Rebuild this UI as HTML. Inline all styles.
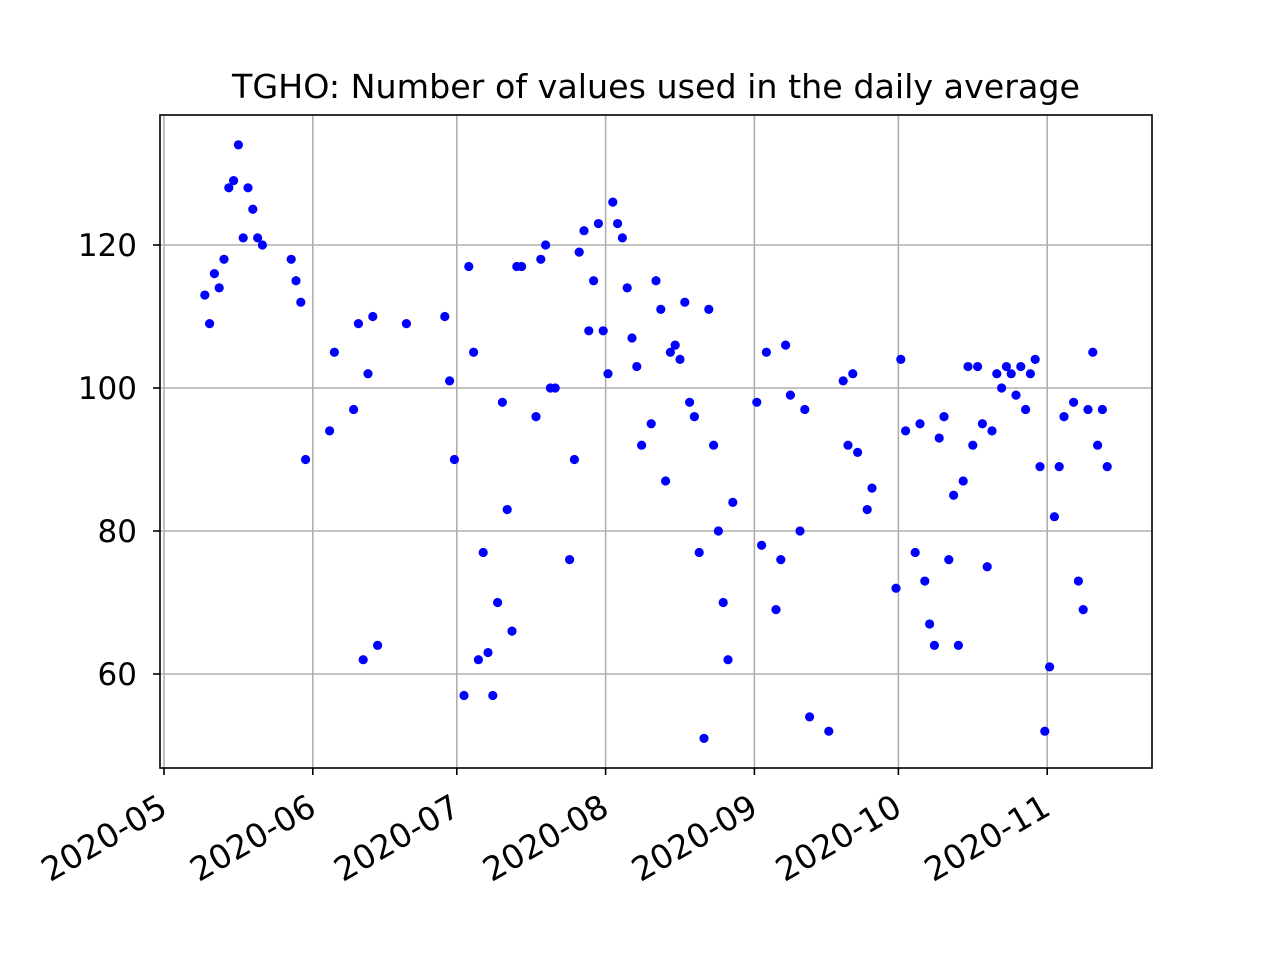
<!DOCTYPE html>
<html><head><meta charset="utf-8"><style>
html,body{margin:0;padding:0;background:#fff;}
svg{display:block;font-family:"DejaVu Sans","Liberation Sans",sans-serif;}
</style></head><body>
<svg id="chart" width="1280" height="960" viewBox="0 0 1280 960" xmlns="http://www.w3.org/2000/svg">
<rect width="1280" height="960" fill="#fff"/>
<text x="656" y="98" font-size="33.3" text-anchor="middle">TGHO: Number of values used in the daily average</text>
<g id="grid"></g><g id="pts"></g><g id="axes"></g>
</svg>
<script>
// days since 2020-05-01
const days=[8.5,9.5,10.5,11.5,12.5,13.5,14.5,15.5,16.5,17.5,18.5,19.5,20.5,26.5,27.5,28.5,29.5,34.5,35.5,39.5,40.5,41.5,42.5,43.5,44.5,50.5,58.5,59.5,60.5,62.5,63.5,64.5,65.5,66.5,67.5,68.5,69.5,70.5,71.5,72.5,73.5,74.5,77.5,78.5,79.5,80.5,81.5,84.5,85.5,86.5,87.5,88.5,89.5,90.5,91.5,92.5,93.5,94.5,95.5,96.5,97.5,98.5,99.5,101.5,102.5,103.5,104.5,105.5,106.5,107.5,108.5,109.5,110.5,111.5,112.5,113.5,114.5,115.5,116.5,117.5,118.5,123.5,124.5,125.5,127.5,128.5,129.5,130.5,132.5,133.5,134.5,138.5,141.5,142.5,143.5,144.5,146.5,147.5,152.5,153.5,154.5,156.5,157.5,158.5,159.5,160.5,161.5,162.5,163.5,164.5,165.5,166.5,167.5,168.5,169.5,170.5,171.5,172.5,173.5,174.5,175.5,176.5,177.5,178.5,179.5,180.5,181.5,182.5,183.5,184.5,185.5,186.5,187.5,189.5,190.5,191.5,192.5,193.5,194.5,195.5,196.5];
const values=[113,109,116,114,118,128,129,134,121,128,125,121,120,118,115,112,90,94,105,97,109,62,102,110,64,109,110,101,90,57,117,105,62,77,63,57,70,98,83,66,117,117,96,118,120,100,100,76,90,119,122,108,115,123,108,102,126,123,121,114,107,103,92,95,115,111,87,105,106,104,112,98,96,77,51,111,92,80,70,62,84,98,78,105,69,76,106,99,80,97,54,52,101,92,102,91,83,86,72,104,94,77,95,73,67,64,93,96,76,85,64,87,103,92,103,95,75,94,102,100,103,102,99,103,97,102,104,89,52,61,82,89,96,98,73,69,97,105,92,97,89];
const xTickDays=[0,31,61,92,123,153,184];
const xTickLabels=["2020-05","2020-06","2020-07","2020-08","2020-09","2020-10","2020-11"];
const yTicks=[60,80,100,120];
const NS="http://www.w3.org/2000/svg";
const L=160,R=1152,T=115,B=768;
const X=d=>164+d*4.8;
const Y=v=>388-(v-100)*7.15;
function mk(tag,attrs,parent){const e=document.createElementNS(NS,tag);for(const k in attrs)e.setAttribute(k,attrs[k]);document.getElementById(parent).appendChild(e);return e;}
xTickDays.forEach((d,i)=>{
  const x=X(d);
  const g=mk('line',{x1:x,x2:x,y1:T,y2:B,stroke:'#b0b0b0','stroke-width':1.6},'grid');
  
  
  const t=mk('line',{x1:x,x2:x,y1:B,y2:B+7,stroke:'#000','stroke-width':1.6},'axes');
  
  
  const lb=mk('text',{'font-size':33,'text-anchor':'end',transform:`translate(${x-7},${B+24}) rotate(-30)`,dy:'0.75em'},'axes');
  lb.textContent=xTickLabels[i];
  
  
});
yTicks.forEach(v=>{
  const y=Y(v);
  const g=mk('line',{x1:L,x2:R,y1:y,y2:y,stroke:'#b0b0b0','stroke-width':1.6},'grid');
  
  
  const t=mk('line',{x1:L-7,x2:L,y1:y,y2:y,stroke:'#000','stroke-width':1.6},'axes');
  
  
  const lb=mk('text',{x:L-23,y:y+11,'font-size':31,'text-anchor':'end'},'axes');
  lb.textContent=v;
  
  
});
const frame=mk('rect',{x:L,y:T,width:R-L,height:B-T,fill:'none',stroke:'#000','stroke-width':1.6},'axes');


days.forEach((d,i)=>{
  const c=mk('circle',{cx:X(d),cy:Y(values[i]),r:4.6,fill:'#0000ff'},'pts');
  
  
});
</script>
</body></html>
